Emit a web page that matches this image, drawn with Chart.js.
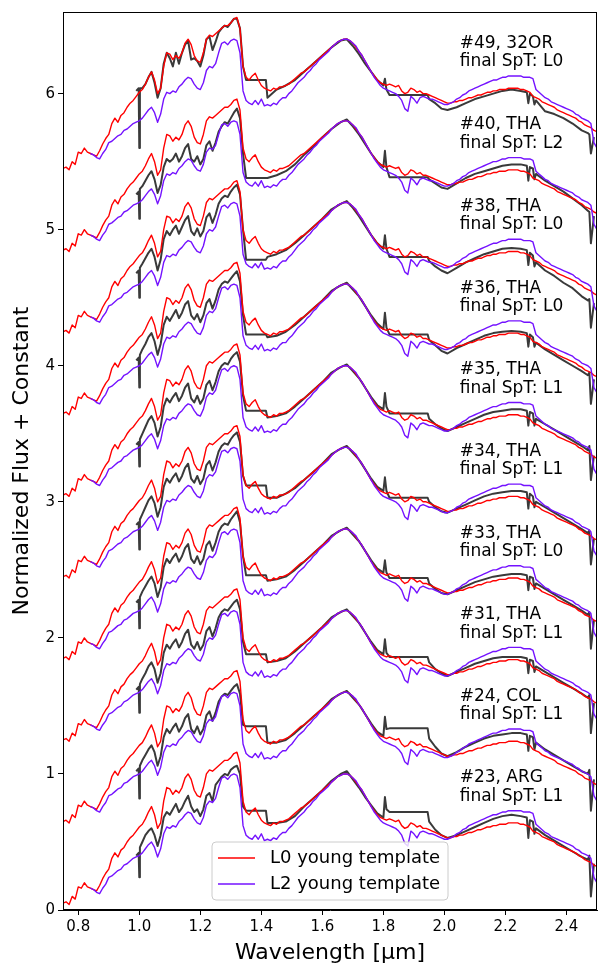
<!DOCTYPE html>
<html><head><meta charset="utf-8">
<script src="https://cdn.jsdelivr.net/npm/chart.js@4.4.0/dist/chart.umd.min.js"></script>
<style>html,body{margin:0;padding:0;background:#fff;}#wrap{width:598px;height:966px;}</style>
</head><body><div id="wrap"><canvas id="c" width="598" height="966"></canvas></div>
<script>
// ---- wavelength grid of the templates (µm)
const wlTemplate = [
0.75,0.76,0.77,0.78,0.79,0.80,0.81,0.82,0.83,0.84,
0.85,0.86,0.87,0.88,0.89,0.90,0.91,0.92,0.93,0.94,
0.95,0.96,0.97,0.98,0.99,1.00,1.01,1.02,1.03,1.04,
1.05,1.06,1.07,1.08,1.09,1.10,1.11,1.12,1.13,1.14,
1.15,1.16,1.17,1.18,1.19,1.20,1.21,1.22,1.23,1.24,
1.25,1.26,1.27,1.28,1.29,1.30,1.31,1.32,1.33,1.34,
1.35,1.36,1.37,1.38,1.39,1.40,1.41,1.42,1.43,1.44,
1.45,1.46,1.47,1.48,1.49,1.50,1.51,1.52,1.53,1.54,
1.55,1.56,1.57,1.58,1.59,1.60,1.61,1.62,1.63,1.64,
1.65,1.66,1.67,1.68,1.69,1.70,1.71,1.72,1.73,1.74,
1.75,1.76,1.77,1.78,1.79,1.80,1.81,1.82,1.83,1.84,
1.85,1.86,1.87,1.88,1.89,1.90,1.91,1.92,1.93,1.94,
1.95,1.96,1.97,1.98,1.99,2.00,2.01,2.02,2.03,2.04,
2.05,2.06,2.07,2.08,2.09,2.10,2.11,2.12,2.13,2.14,
2.15,2.16,2.17,2.18,2.19,2.20,2.21,2.22,2.23,2.24,
2.25,2.26,2.27,2.28,2.29,2.30,2.31,2.32,2.33,2.34,
2.35,2.36,2.37,2.38,2.39,2.40,2.41,2.42,2.43,2.44,
2.45,2.46,2.47,2.48,2.49,2.50];

// ---- L0 young template (normalized)
const templateL0 = [
0.05,0.06,0.04,0.10,0.08,0.17,0.16,0.20,0.17,0.16,
0.15,0.14,0.18,0.23,0.27,0.30,0.38,0.42,0.39,0.44,
0.46,0.50,0.53,0.55,0.58,0.61,0.63,0.67,0.72,0.76,
0.70,0.60,0.64,0.80,0.90,0.89,0.85,0.88,0.86,0.90,
0.97,1.00,0.96,0.88,0.84,0.83,0.90,1.00,1.03,1.02,
1.04,1.06,1.08,1.10,1.10,1.12,1.15,1.16,1.08,0.80,
0.72,0.70,0.73,0.75,0.70,0.66,0.64,0.63,0.62,0.64,
0.63,0.65,0.65,0.66,0.67,0.69,0.71,0.73,0.75,0.76,
0.78,0.80,0.82,0.84,0.86,0.88,0.90,0.92,0.94,0.96,
0.98,0.99,1.00,1.00,0.99,0.97,0.94,0.91,0.88,0.84,
0.80,0.76,0.73,0.70,0.68,0.67,0.66,0.67,0.66,0.65,
0.66,0.62,0.60,0.61,0.64,0.63,0.61,0.62,0.60,0.60,
0.59,0.58,0.57,0.56,0.55,0.54,0.53,0.53,0.54,0.54,
0.55,0.55,0.56,0.57,0.57,0.58,0.59,0.59,0.60,0.61,
0.61,0.62,0.62,0.63,0.63,0.63,0.64,0.64,0.64,0.64,
0.63,0.63,0.62,0.61,0.58,0.57,0.56,0.54,0.53,0.52,
0.51,0.50,0.48,0.47,0.46,0.45,0.44,0.43,0.42,0.40,
0.39,0.37,0.36,0.35,0.33,0.32];

// ---- L2 young template (normalized)
const templateL2 = [
null,null,null,null,null,null,null,null,null,0.16,
0.15,0.13,0.12,0.16,0.19,0.24,0.25,0.27,0.29,0.30,
0.33,0.34,0.36,0.38,0.39,0.40,0.42,0.45,0.48,0.50,
0.46,0.39,0.45,0.56,0.61,0.60,0.62,0.61,0.65,0.67,
0.70,0.72,0.71,0.67,0.64,0.63,0.68,0.77,0.80,0.79,
0.82,0.90,0.97,0.98,0.96,0.99,1.00,0.99,0.90,0.62,
0.55,0.53,0.52,0.55,0.52,0.56,0.51,0.52,0.51,0.53,
0.52,0.55,0.57,0.57,0.60,0.62,0.65,0.68,0.70,0.72,
0.75,0.77,0.80,0.82,0.85,0.87,0.89,0.91,0.94,0.96,
0.98,0.99,1.00,1.00,0.99,0.97,0.95,0.91,0.88,0.84,
0.80,0.76,0.72,0.69,0.66,0.64,0.63,0.62,0.61,0.60,
0.58,0.55,0.49,0.47,0.58,0.56,0.53,0.57,0.58,0.57,
0.56,0.56,0.55,0.54,0.53,0.52,0.52,0.53,0.54,0.56,
0.57,0.59,0.60,0.62,0.63,0.64,0.65,0.66,0.67,0.68,
0.69,0.70,0.70,0.71,0.72,0.72,0.73,0.73,0.73,0.73,
0.73,0.72,0.72,0.72,0.71,0.63,0.61,0.59,0.57,0.56,
0.54,0.53,0.52,0.51,0.50,0.49,0.48,0.47,0.45,0.44,
0.42,0.41,0.40,0.38,0.24,0.20];

// ---- wavelength grid of the observed spectra (µm)
const wlObs = [
0.99,0.998,1.0,1.002,1.01,1.02,1.03,1.04,1.05,1.06,1.07,1.08,1.09,1.10,1.11,1.12,1.13,1.14,1.15,1.16,
1.17,1.18,1.19,1.20,1.21,1.22,1.23,1.24,1.25,1.26,1.27,1.28,1.29,1.30,1.31,1.32,1.33,1.34,
1.35,1.415,1.42,1.45,1.48,1.51,1.54,1.57,1.60,1.63,1.66,1.68,1.70,1.72,1.74,1.76,1.78,1.80,1.805,1.81,1.82,
1.945,1.95,1.97,1.99,2.01,2.04,2.07,2.10,2.13,2.16,2.19,2.22,2.25,2.27,2.275,2.28,2.29,2.295,2.30,2.33,
2.36,2.39,2.42,2.45,2.47,2.475,2.48,2.49];

// ---- observed spectra (normalized, before the constant offset)
const obs23 = [
0.40,0.42,0.24,0.46,0.50,0.55,0.58,0.60,0.55,0.47,0.55,0.68,0.72,0.70,0.74,0.78,0.72,0.75,0.80,0.84,
0.76,0.72,0.74,0.69,0.74,0.84,0.86,0.80,0.92,0.95,0.98,1.00,0.99,1.03,1.05,1.06,1.00,0.76,
0.73,0.73,0.64,0.64,0.65,0.69,0.76,0.82,0.88,0.95,1.00,1.02,0.96,0.90,0.83,0.77,0.71,0.68,0.83,0.74,0.72,
0.72,0.65,0.59,0.55,0.53,0.55,0.58,0.61,0.64,0.67,0.69,0.70,0.69,0.68,0.53,0.66,0.65,0.56,0.60,0.55,
0.51,0.47,0.43,0.39,0.37,0.40,0.10,0.34];
const obs24 = [
0.42,0.44,0.22,0.46,0.50,0.54,0.58,0.61,0.56,0.46,0.53,0.67,0.73,0.70,0.74,0.77,0.71,0.75,0.81,0.84,
0.73,0.70,0.75,0.69,0.73,0.83,0.86,0.79,0.85,0.93,0.97,0.99,0.98,1.01,1.04,1.06,0.99,0.76,
0.75,0.75,0.63,0.63,0.65,0.70,0.76,0.82,0.88,0.95,0.99,1.01,0.96,0.91,0.84,0.77,0.71,0.68,0.82,0.73,0.735,
0.735,0.66,0.60,0.55,0.53,0.56,0.60,0.63,0.66,0.68,0.69,0.70,0.70,0.69,0.57,0.68,0.67,0.58,0.63,0.58,
0.54,0.50,0.46,0.42,0.40,0.43,0.13,0.36];
const obs31 = [
0.42,0.44,0.25,0.46,0.50,0.54,0.59,0.62,0.57,0.47,0.54,0.69,0.75,0.72,0.76,0.79,0.73,0.77,0.83,0.86,
0.75,0.72,0.77,0.71,0.75,0.85,0.88,0.81,0.87,0.95,0.99,1.01,1.00,1.03,1.06,1.08,1.01,0.77,
0.68,0.68,0.62,0.63,0.65,0.70,0.76,0.82,0.88,0.95,0.99,1.01,0.96,0.91,0.84,0.77,0.71,0.68,0.79,0.69,0.66,
0.66,0.62,0.57,0.54,0.52,0.55,0.58,0.61,0.63,0.65,0.66,0.66,0.66,0.65,0.54,0.64,0.63,0.55,0.59,0.55,
0.51,0.47,0.43,0.39,0.36,0.38,0.10,0.32];
const obs33 = [
0.46,0.48,0.27,0.50,0.54,0.58,0.62,0.65,0.60,0.50,0.57,0.72,0.78,0.75,0.79,0.82,0.76,0.80,0.86,0.89,
0.78,0.75,0.80,0.74,0.78,0.88,0.91,0.84,0.90,0.98,1.02,1.04,1.03,1.07,1.10,1.13,1.05,0.80,
0.66,0.66,0.62,0.63,0.65,0.70,0.76,0.82,0.88,0.95,0.99,1.01,0.96,0.91,0.84,0.77,0.71,0.68,0.77,0.68,0.64,
0.64,0.60,0.56,0.53,0.52,0.55,0.58,0.61,0.63,0.65,0.66,0.67,0.67,0.66,0.55,0.65,0.64,0.56,0.60,0.56,
0.52,0.48,0.44,0.40,0.37,0.39,0.12,0.33];
const obs34 = [
0.43,0.45,0.25,0.47,0.51,0.56,0.61,0.64,0.59,0.49,0.56,0.71,0.77,0.74,0.78,0.81,0.75,0.79,0.85,0.88,
0.77,0.74,0.79,0.73,0.77,0.87,0.90,0.83,0.89,0.97,1.01,1.03,1.02,1.06,1.09,1.11,1.04,0.79,
0.72,0.72,0.63,0.63,0.66,0.70,0.76,0.82,0.88,0.95,0.99,1.01,0.96,0.91,0.84,0.77,0.71,0.68,0.78,0.68,0.63,
0.63,0.60,0.56,0.53,0.52,0.55,0.58,0.61,0.64,0.66,0.67,0.68,0.68,0.67,0.55,0.66,0.64,0.56,0.60,0.56,
0.52,0.48,0.44,0.40,0.37,0.39,0.14,0.33];
const obs35 = [
0.42,0.44,0.26,0.46,0.50,0.55,0.60,0.63,0.58,0.48,0.55,0.70,0.76,0.73,0.77,0.80,0.74,0.78,0.84,0.87,
0.76,0.73,0.78,0.72,0.76,0.86,0.89,0.82,0.88,0.96,1.00,1.02,1.01,1.05,1.08,1.10,1.03,0.78,
0.67,0.67,0.62,0.63,0.65,0.70,0.76,0.82,0.88,0.95,0.99,1.01,0.96,0.91,0.84,0.77,0.71,0.68,0.80,0.70,0.65,
0.65,0.61,0.57,0.54,0.52,0.55,0.58,0.61,0.64,0.66,0.67,0.68,0.68,0.67,0.56,0.66,0.65,0.56,0.61,0.57,
0.53,0.49,0.45,0.41,0.38,0.41,0.16,0.34];
const obs36 = [
0.44,0.46,0.24,0.48,0.52,0.56,0.61,0.64,0.58,0.48,0.56,0.70,0.76,0.73,0.77,0.81,0.75,0.79,0.85,0.875,
0.77,0.74,0.78,0.72,0.77,0.86,0.89,0.82,0.88,0.96,1.00,1.02,1.01,1.04,1.07,1.095,1.02,0.77,
0.63,0.63,0.61,0.62,0.65,0.70,0.76,0.82,0.88,0.95,0.99,1.01,0.96,0.91,0.84,0.77,0.71,0.67,0.79,0.68,0.63,
0.63,0.59,0.55,0.51,0.49,0.53,0.56,0.59,0.62,0.64,0.65,0.655,0.65,0.64,0.54,0.63,0.61,0.54,0.57,0.52,
0.48,0.44,0.40,0.36,0.33,0.35,0.12,0.30];
const obs38 = [
0.48,0.50,0.30,0.52,0.55,0.59,0.63,0.66,0.60,0.50,0.58,0.73,0.79,0.76,0.80,0.83,0.77,0.82,0.87,0.90,
0.79,0.76,0.81,0.75,0.79,0.89,0.92,0.85,0.91,0.99,1.03,1.05,1.04,1.08,1.11,1.13,1.06,0.80,
0.58,0.58,0.60,0.62,0.65,0.70,0.76,0.82,0.88,0.95,0.99,1.01,0.96,0.90,0.83,0.76,0.70,0.66,0.76,0.66,0.60,
0.60,0.57,0.53,0.50,0.48,0.52,0.56,0.59,0.62,0.64,0.66,0.665,0.66,0.65,0.54,0.63,0.61,0.53,0.56,0.50,
0.46,0.41,0.37,0.31,0.28,0.29,0.08,0.26];
const obs40 = [
0.46,0.48,0.28,0.50,0.52,0.56,0.60,0.63,0.57,0.47,0.53,0.66,0.72,0.70,0.72,0.76,0.70,0.74,0.80,0.83,
0.72,0.70,0.74,0.68,0.72,0.82,0.85,0.78,0.84,0.92,0.96,0.99,0.98,1.02,1.06,1.09,1.02,0.76,
0.58,0.58,0.58,0.60,0.63,0.68,0.75,0.81,0.88,0.94,0.99,1.01,0.96,0.90,0.83,0.76,0.70,0.66,0.78,0.66,0.585,
0.585,0.57,0.54,0.51,0.50,0.54,0.58,0.61,0.63,0.65,0.67,0.68,0.68,0.67,0.56,0.66,0.65,0.57,0.61,0.56,
0.52,0.48,0.43,0.38,0.34,0.33,0.10,0.30];
const obs49 = [
0.62,0.64,0.20,0.64,0.64,0.67,0.72,0.76,0.68,0.57,0.64,0.82,0.90,0.86,0.80,0.90,0.82,0.90,0.96,0.99,
0.85,0.86,0.84,0.80,0.88,1.00,1.02,0.92,0.98,1.05,1.08,1.10,1.09,1.12,1.15,1.15,1.08,0.80,
0.70,0.70,0.57,0.63,0.66,0.70,0.76,0.82,0.88,0.94,0.99,1.00,0.95,0.89,0.82,0.76,0.70,0.66,0.71,0.63,0.59,
0.59,0.56,0.53,0.49,0.48,0.50,0.53,0.56,0.58,0.60,0.62,0.63,0.62,0.61,0.53,0.60,0.58,0.52,0.55,0.47,
0.45,0.42,0.38,0.33,0.31,0.30,0.16,0.28];

// ---- objects (bottom to top), constants added, labels
const objNames = ['#23, ARG','#24, COL','#31, THA','#33, THA','#34, THA','#35, THA','#36, THA','#38, THA','#40, THA','#49, 32OR'];
const finalSpT = ['L1','L1','L1','L0','L1','L1','L0','L0','L2','L0'];
const offsets = [0,0.6,1.2,1.8,2.4,3.0,3.6,4.2,4.8,5.4];
const observed = [obs23,obs24,obs31,obs33,obs34,obs35,obs36,obs38,obs40,obs49];
const xTicks = [0.8,1.0,1.2,1.4,1.6,1.8,2.0,2.2,2.4];
const yTicks = [0,1,2,3,4,5,6];
const legendLabels = ['L0 young template','L2 young template'];

const RED = '#ff0000', PURPLE = '#7412ff', GREY = '#3a3a3a';
const FONT = '"DejaVu Sans", "Liberation Sans", sans-serif';

const datasets = [];
observed.forEach((arr,i)=>{
  datasets.push({label:'obs '+objNames[i], data: wlObs.map((w,k)=>({x:w,y:arr[k]+offsets[i]})),
    borderColor:GREY, borderWidth:2, order:3});
});
offsets.forEach((off,i)=>{
  datasets.push({label:legendLabels[0], data: wlTemplate.map((w,k)=>({x:w,y:templateL0[k]+off})),
    borderColor:RED, borderWidth:1.4, order:2});
});
offsets.forEach((off,i)=>{
  datasets.push({label:legendLabels[1], data: wlTemplate.map((w,k)=>({x:w,y:templateL2[k]===null?null:templateL2[k]+off})),
    borderColor:PURPLE, borderWidth:1.4, order:1});
});

const overlay = {
  id:'overlay',
  afterDraw(chart){
    const {ctx, chartArea:a, scales:{x,y}} = chart;
    ctx.save();
    ctx.strokeStyle='#000'; ctx.lineWidth=1;
    ctx.strokeRect(a.left+0.5, a.top+0.5, a.right-a.left-1, a.bottom-a.top-1);
    ctx.fillStyle='#000'; ctx.textAlign='left'; ctx.textBaseline='middle';
    ctx.font = '17px '+FONT;
    const px = x.getPixelForValue(2.05);
    objNames.forEach((n,i)=>{
      ctx.fillText(n, px, y.getPixelForValue(offsets[i]+0.97));
      ctx.fillText('final SpT: '+finalSpT[i], px, y.getPixelForValue(offsets[i]+0.835));
    });
    const lx=212, ly=842, lw=236, lh=58, r=4;
    ctx.beginPath();
    ctx.moveTo(lx+r,ly); ctx.lineTo(lx+lw-r,ly); ctx.quadraticCurveTo(lx+lw,ly,lx+lw,ly+r);
    ctx.lineTo(lx+lw,ly+lh-r); ctx.quadraticCurveTo(lx+lw,ly+lh,lx+lw-r,ly+lh);
    ctx.lineTo(lx+r,ly+lh); ctx.quadraticCurveTo(lx,ly+lh,lx,ly+lh-r);
    ctx.lineTo(lx,ly+r); ctx.quadraticCurveTo(lx,ly,lx+r,ly); ctx.closePath();
    ctx.fillStyle='rgba(255,255,255,0.8)'; ctx.fill();
    ctx.strokeStyle='#cccccc'; ctx.lineWidth=1; ctx.stroke();
    [[RED,legendLabels[0],858],[PURPLE,legendLabels[1],884]].forEach(([c,t,yy])=>{
      ctx.strokeStyle=c; ctx.lineWidth=1.5; ctx.beginPath(); ctx.moveTo(218,yy); ctx.lineTo(255,yy); ctx.stroke();
      ctx.fillStyle='#000'; ctx.font='18px '+FONT; ctx.fillText(t,270,yy);
    });
    ctx.restore();
  }
};

new Chart(document.getElementById('c'), {
  type:'line',
  data:{datasets},
  plugins:[overlay],
  options:{
    responsive:false, animation:false, devicePixelRatio:1,
    layout:{padding:{left:0,right:1,top:11,bottom:0}},
    elements:{point:{radius:0}, line:{tension:0, borderJoinStyle:'round', fill:false}},
    plugins:{legend:{display:false}, tooltip:{enabled:false}},
    scales:{
      x:{type:'linear', min:0.75, max:2.5,
        afterFit(s){s.height=56;},
        afterBuildTicks(s){s.ticks = xTicks.map(v=>({value:v}));},
        ticks:{font:{family:FONT,size:15}, color:'#000', padding:3, maxRotation:0, autoSkip:false,
          callback:(v)=>Number(v).toFixed(1)},
        grid:{display:true, drawOnChartArea:false, drawTicks:true, tickLength:5, color:'#000'},
        border:{display:true,color:'#000',width:1},
        title:{display:true, text:'Wavelength [μm]', font:{family:FONT,size:22}, color:'#000', padding:{top:0,bottom:0}}
      },
      y:{type:'linear', min:0, max:6.6,
        afterFit(s){s.width=63;},
        afterBuildTicks(s){s.ticks = yTicks.map(v=>({value:v}));},
        ticks:{font:{family:FONT,size:15}, color:'#000', padding:3, autoSkip:false, callback:(v)=>String(v)},
        grid:{display:true, drawOnChartArea:false, drawTicks:true, tickLength:5, color:'#000'},
        border:{display:true,color:'#000',width:1},
        title:{display:true, text:'Normalized Flux + Constant', font:{family:FONT,size:22}, color:'#000', padding:{top:9,bottom:0}}
      }
    }
  }
});
</script></body></html>
